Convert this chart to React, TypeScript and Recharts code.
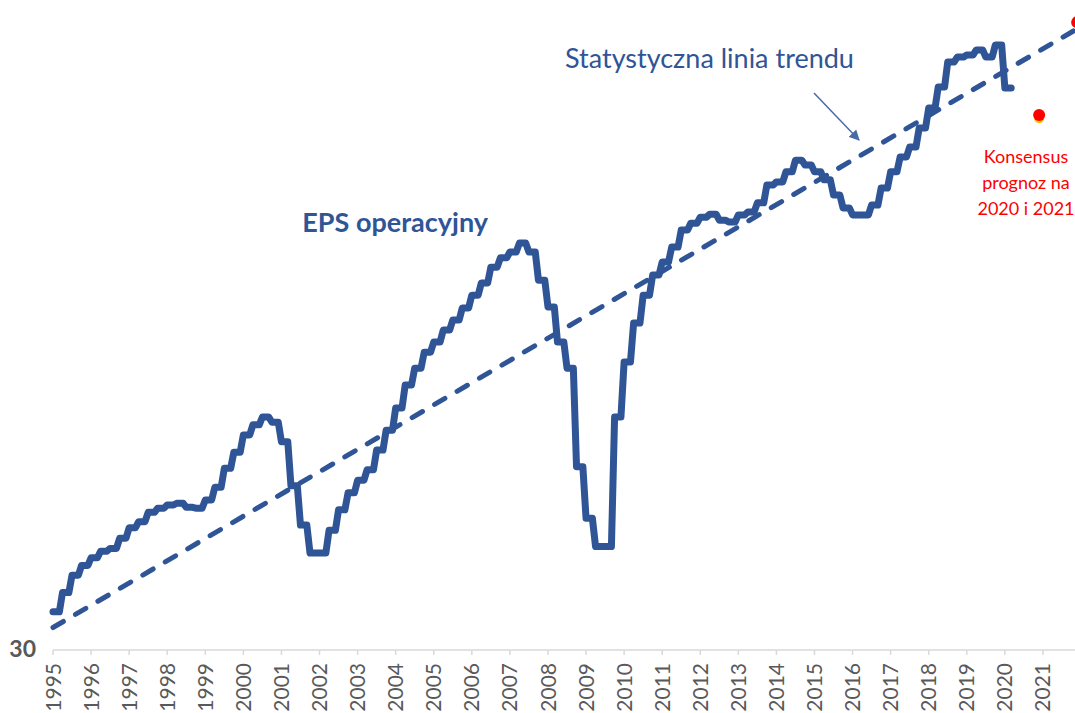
import { LineChart, Line, XAxis, YAxis } from 'recharts';

// tick labels on the date axis
const years = [
  1995, 1996, 1997, 1998, 1999, 2000, 2001, 2002, 2003, 2004, 2005, 2006, 2007,
  2008, 2009, 2010, 2011, 2012, 2013, 2014, 2015, 2016, 2017, 2018, 2019, 2020, 2021,
];

// trailing operating EPS, one value per quarter from 1995 Q1 to 2020 Q1
const epsQuarterly = [
  33.3, 35.1, 36.8, 37.8, 38.6, 39.3, 39.6, 40.7, 41.9, 42.6, 43.7, 44.2, 44.6, 44.8, 44.3, 44.2,
  45.2, 46.8, 49.3, 51.5, 54.0, 55.5, 56.7, 55.9, 53.0, 47.0, 42.2, 39.1, 39.1, 41.6, 44.0, 46.1,
  47.7, 49.1, 51.8, 54.7, 58.1, 61.9, 64.8, 67.7, 69.6, 71.9, 73.9, 76.4, 79.1, 81.8, 85.4, 87.6,
  89.0, 91.2, 89.0, 82.4, 76.6, 69.6, 64.8, 49.5, 43.0, 39.8, 39.8, 56.7, 65.9, 73.3, 79.1, 83.6,
  86.6, 90.2, 94.5, 96.3, 97.9, 98.7, 97.1, 96.6, 98.5, 99.3, 101.8, 106.9, 107.8, 110.8, 114.4, 112.9,
  110.8, 108.4, 104.0, 100.4, 98.5, 98.5, 101.2, 106.0, 110.8, 115.4, 118.6, 124.9, 131.9, 139.7, 149.6, 151.6,
  152.5, 154.6, 151.6, 156.7, 139.3,
];

// log-linear trend line, its two ends
const trendYears = [1995, 2022];
const trendValues = [31.9, 164.8];

// analysts' consensus for 2020 and 2021
const consensusYears = [2020.9, 2021.9];
const consensusValues = [129.4, 166.8];
const consensusShadowYears = [2020.9];
const consensusShadowValues = [128.3];

const BLUE = '#2f5597';
const GREY = '#595959';
const FONT = 'Lato, "Open Sans", sans-serif';

// the series is monthly; the quarterly figure is held for each month of its quarter
const epsData = epsQuarterly.flatMap((v, q) =>
  [0, 1, 2].map((m) => ({ x: 1995 + (q * 3 + m) / 12, eps: v }))
);
const trendData = trendYears.map((x, i) => ({ x, trend: trendValues[i] }));
const consensusData = consensusYears.map((x, i) => ({ x, cons: consensusValues[i] }));
const shadowData = consensusShadowYears.map((x, i) => ({ x, shadow: consensusShadowValues[i] }));

const YearTick = ({ x, y, payload }: any) => (
  <g transform={`translate(${x},${y})`}>
    <text
      x={-6}
      y={0}
      dy="0.36em"
      transform="rotate(-90)"
      textAnchor="end"
      fontFamily={FONT}
      fontSize={21}
      fill={GREY}
    >
      {payload.value}
    </text>
  </g>
);

const ValueTick = ({ x, y, payload }: any) => (
  <text x={x} y={y} dy="0.3em" textAnchor="end" fontFamily={FONT} fontSize={23} fontWeight={700} fill={GREY}>
    {payload.value}
  </text>
);

export default function App() {
  return (
    <div
      style={{
        position: 'absolute',
        left: 0,
        top: 0,
        width: 1075,
        height: 713,
        overflow: 'hidden',
        background: '#fff',
      }}
    >
      <LineChart width={1085} height={713} margin={{ top: 0, right: 4, bottom: 0, left: 0 }}>
        <XAxis
          type="number"
          dataKey="x"
          domain={[1995, 2022]}
          ticks={years}
          interval={0}
          height={63}
          tickSize={5}
          axisLine={{ stroke: '#d9d9d9', strokeWidth: 1.5 }}
          tickLine={{ stroke: '#d9d9d9', strokeWidth: 1.5 }}
          tick={<YearTick />}
        />
        <YAxis
          scale="log"
          domain={[30, 177.2]}
          allowDataOverflow
          ticks={[30]}
          width={53}
          axisLine={false}
          tickLine={false}
          tickSize={0}
          tickMargin={17}
          tick={<ValueTick />}
        />
        <Line
          data={trendData}
          dataKey="trend"
          type="linear"
          stroke={BLUE}
          strokeWidth={5}
          strokeDasharray="12 14"
          strokeLinecap="round"
          dot={false}
          activeDot={false}
          isAnimationActive={false}
        />
        <Line
          data={epsData}
          dataKey="eps"
          type="linear"
          stroke={BLUE}
          strokeWidth={7}
          strokeLinejoin="round"
          strokeLinecap="round"
          dot={false}
          activeDot={false}
          isAnimationActive={false}
        />
        <Line
          data={shadowData}
          dataKey="shadow"
          stroke="none"
          dot={{ r: 5, fill: '#ffc000', stroke: 'none' }}
          activeDot={false}
          isAnimationActive={false}
        />
        <Line
          data={consensusData}
          dataKey="cons"
          stroke="none"
          dot={{ r: 6, fill: '#ff0000', stroke: 'none' }}
          activeDot={false}
          isAnimationActive={false}
        />
      </LineChart>

      <svg
        width={1075}
        height={713}
        style={{ position: 'absolute', left: 0, top: 0, pointerEvents: 'none' }}
      >
        <defs>
          <marker id="arrowHead" viewBox="0 0 10 10" refX="9" refY="5" markerWidth="7" markerHeight="7" orient="auto">
            <path d="M0,0 L10,5 L0,10 z" fill="#4a6aa5" />
          </marker>
        </defs>
        <text x={565} y={68} fontFamily={FONT} fontSize={27} fill={BLUE}>
          Statystyczna linia trendu
        </text>
        <line x1={814} y1={93} x2={859} y2={140} stroke="#4a6aa5" strokeWidth={1.5} markerEnd="url(#arrowHead)" />
        <text x={488} y={232} textAnchor="end" fontFamily={FONT} fontSize={27} fontWeight={700} fill={BLUE}>
          EPS operacyjny
        </text>
        <g fontFamily={FONT} fontSize={18} fill="#ff0000" textAnchor="middle">
          <text x={1026} y={163}>Konsensus</text>
          <text x={1026} y={189}>prognoz na</text>
          <text x={1026} y={215}>2020 i 2021</text>
        </g>
      </svg>
    </div>
  );
}
